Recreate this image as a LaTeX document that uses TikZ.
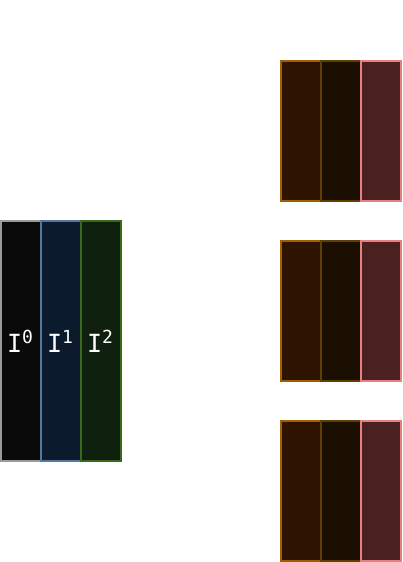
\documentclass[tikz,border=0pt]{standalone}
\usepackage{fontspec}
\setmonofont{DejaVu Sans Mono}
\definecolor{bgray}{HTML}{9A9A9A}
\definecolor{fblack}{HTML}{0A0A0A}
\definecolor{bblue}{HTML}{5575A5}
\definecolor{fblue}{HTML}{0C1A2E}
\definecolor{bgreen}{HTML}{386A1C}
\definecolor{fgreen}{HTML}{0F210E}
\definecolor{borange}{HTML}{A06000}
\definecolor{forange}{HTML}{2D1300}
\definecolor{bbrown}{HTML}{604000}
\definecolor{fbrown}{HTML}{1A0F00}
\definecolor{bpink}{HTML}{E88080}
\definecolor{fpink}{HTML}{4A2020}
\definecolor{ghost}{HTML}{FEFEFE}
\newcommand{\mysup}[1]{\raisebox{9pt}{\fontsize{18}{18}\selectfont #1}}
\tikzset{
  cell/.style={line width=2.2pt},
  lbl/.style={text=white, font=\fontsize{25}{27}\selectfont\ttfamily, inner sep=0pt},
  glbl/.style={text=ghost, font=\fontsize{24}{26}\selectfont\ttfamily, inner sep=0pt}
}
\begin{document}
\begin{tikzpicture}[x=1pt,y=-1pt]
\useasboundingbox (0,0) rectangle (402,562);
% left block
\filldraw[cell, draw=bgray, fill=fblack] (1,221) rectangle (41,461);
\filldraw[cell, draw=bblue, fill=fblue] (41,221) rectangle (81,461);
\filldraw[cell, draw=bgreen, fill=fgreen] (81,221) rectangle (121,461);
\node[lbl] (i0) at (20,341) {I\mysup{0}};
\node[lbl] (i1) at (60,341) {I\mysup{1}};
\node[lbl] (i2) at (100,341) {I\mysup{2}};
% right blocks
\foreach \y in {61,241,421}{
  \filldraw[cell, draw=borange, fill=forange] (281,\y) rectangle (321,\y+140);
  \filldraw[cell, draw=bbrown, fill=fbrown] (321,\y) rectangle (361,\y+140);
  \filldraw[cell, draw=bpink, fill=fpink] (361,\y) rectangle (401,\y+140);
}
% faint labels
\node[glbl] (cin1) at (340,31) {C\textsubscript{in}};
\node[glbl] (cin2) at (60,191) {C\textsubscript{in}};
\node[glbl] (f0) at (262,72) {F\textsubscript{0}};
\node[glbl] (f1) at (260,251) {F\textsubscript{1}};
\node[glbl] (f2) at (260,431) {F\textsubscript{2}};
\end{tikzpicture}
\end{document}
